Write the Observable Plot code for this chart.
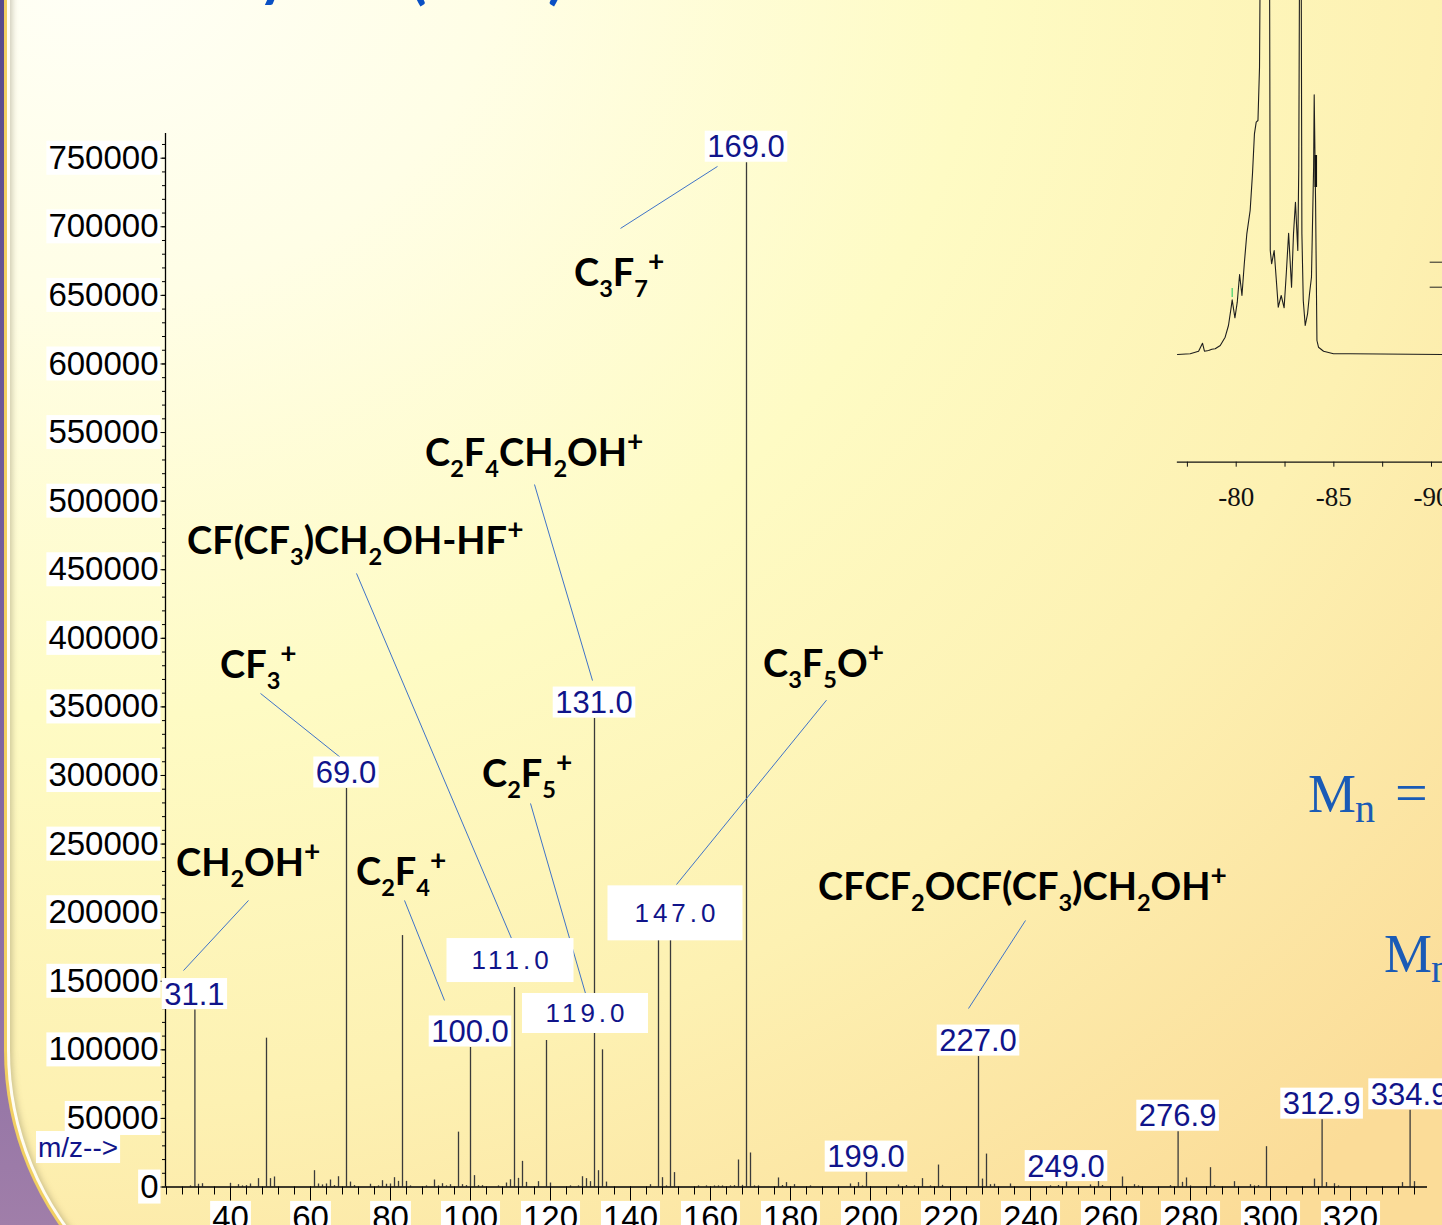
<!DOCTYPE html>
<html><head><meta charset="utf-8">
<script src="https://cdn.jsdelivr.net/npm/d3@7"></script>
<script src="https://cdn.jsdelivr.net/npm/@observablehq/plot@0.6"></script>
<style>
html,body{margin:0;padding:0;background:#fff;}
#stage{position:relative;width:1442px;height:1225px;overflow:hidden;background:linear-gradient(180deg,#574a8c 0%,#7a62a0 55%,#a07ea9 100%);}
#gold{position:absolute;left:4px;top:-60px;width:1500px;height:1416px;background:#f1cf62;border-bottom-left-radius:306px;}
#white{position:absolute;left:7px;top:-60px;width:1500px;height:1413px;background:#fffdf2;border-bottom-left-radius:303px;}
#panel{position:absolute;left:10px;top:-60px;width:1500px;height:1410px;border-bottom-left-radius:300px;
 background:radial-gradient(ellipse 125% 115% at 5% 0%, #fffff8 0%, #fffee6 22%, #fefbc4 48%, #fdf1b2 72%, #fbdc98 100%);
 box-shadow: inset 5px 0 6px -3px rgba(110,100,70,0.35);}
.abs{position:absolute;left:0;top:0;}
</style></head>
<body>
<div id="stage">
  <div id="gold"></div><div id="white"></div><div id="panel"></div>
  <svg class="abs" width="1442" height="1225" style="overflow:hidden">
    <g fill="#0a50c4" font-family="Lato, 'Open Sans', sans-serif" font-weight="700" font-size="60">
      <text x="258" y="-5">y</text>
      <text x="410" y="-3">(</text>
      <text x="548" y="-3">)</text>
    </g>
    <g fill="#1a5bb6" font-family="'Liberation Serif','Times New Roman',serif">
      <text x="1308" y="812" font-size="54">M</text>
      <text x="1355" y="822" font-size="40">n</text>
      <text x="1395" y="812" font-size="58">=</text>
      <text x="1384" y="972" font-size="54">M</text>
      <text x="1431" y="982" font-size="40">n</text>
    </g>
  </svg>
  <div id="main" class="abs"></div>
  <div id="inset" style="position:absolute;left:1160px;top:0"></div>
</div>
<script>
// ---------------- Mass spectrum data ----------------
const peakMz = [30,31.1,32,33,40,42,43,44,45,47,49,50,51,61,62,63,64,65,66,67,69.0,70,71,75,77,78,79,80,81,82,83,84,85,89,91,92,93,94,95,97,98,99,100.0,101,102,103,107,109,110,111.0,112,113,114,117,119.0,120,125,127,128,129,130,131.0,132,133,134,145,147.0,148,149,150,151,157,159,161,162,163,165,166,167,168,169.0,170,171,172,177,178,179,181,185,195,197,198,199.0,207,209,211,213,215,217,218,227.0,228,229,230,231,235,245,247,249.0,255,257,258,263,266,267,275,276.9,278,279,280,285,286,291,295,296,297,299,311,312.9,314,316,317,333,334.9,336];
const peakIntensity = [800,129000,2000,2400,2700,1700,800,1000,2200,6100,108500,6100,7300,11900,2200,1500,2200,5100,1000,7500,290500,3600,1000,2000,800,4600,2000,2200,6800,4100,183300,4100,800,800,5100,800,2400,800,1700,40000,1700,1000,101700,8300,1000,1000,800,2900,5300,145400,6300,18700,3400,3900,106800,2900,800,800,7500,6100,3900,341500,11900,100000,3600,1700,182000,6800,800,182000,10500,800,800,800,800,800,800,1000,19700,1200,746700,24800,800,800,6600,1100,3200,1700,800,2200,3200,800,10500,1500,1100,800,6100,800,16000,1200,95100,5800,24000,1700,2000,2200,800,1100,3600,1500,4900,1100,7300,1700,800,1000,40300,3400,6600,800,14100,1000,3900,1700,800,1000,29400,5800,49100,3200,2400,800,3200,55900,3900];

const labelMz = [31.1,69.0,100.0,111.0,119.0,131.0,147.0,169.0,199.0,227.0,249.0,276.9,312.9,334.9];

const yTickValues = [0,50000,100000,150000,200000,250000,300000,350000,400000,450000,500000,550000,600000,650000,700000,750000];
const xTickValues = [40,60,80,100,120,140,160,180,200,220,240,260,280,300,320];

const fragText = ["CH_2OH^+","CF_3^+","C_2F_4^+","CF(CF_3)CH_2OH-HF^+","C_2F_4CH_2OH^+","C_3F_7^+","C_2F_5^+","C_3F_5O^+","CFCF_2OCF(CF_3)CH_2OH^+"];
const fragMz = [26.5,37.5,71.5,29.25,88.75,126,103,173.25,187];
const fragIntensity = [226350,370700,219800,461100,525200,656500,291200,371400,208900];

const leaderMz1 = [44.5,47.5,83.5,71.5,116,137.5,115,189,238.75];
const leaderI1 = [208900,359800,208900,447300,512100,698800,279600,354900,194300];
const leaderMz2 = [28.25,67.5,93.5,110.25,130.5,161.75,128.75,151.5,224.5];
const leaderI2 = [157800,313100,136000,181200,369200,744000,141100,220500,130100];

// ---------------- NMR inset data ----------------
const nmrPpm = [-77.25,-77.90,-78.33,-78.53,-78.63,-78.84,-79.01,-79.18,-79.44,-79.69,-79.86,-80.00,-80.05,-80.19,-80.31,-80.43,-80.55,-80.67,-80.80,-80.97,-81.09,-81.19,-81.28,-81.37,-81.45,-81.52,-81.95,-82.00,-82.07,-82.20,-82.30,-82.41,-82.56,-82.71,-82.82,-82.94,-83.09,-83.19,-83.29,-83.41,-83.46,-83.52,-83.57,-83.62,-83.69,-83.79,-83.91,-84.01,-84.11,-84.22,-84.25,-84.32,-84.39,-84.47,-84.73,-85.24,-86.09,-90.82];
const nmrSignal = [0,0.7,3.3,11.3,3.3,4,5.3,5.7,9,17.3,29,47.3,54.7,36.7,52.3,80,59,90.7,120.7,144,180.7,220.7,232.3,234,287.3,500,500,104,90.7,104,77.3,47.3,59,46.7,80.7,121.3,67.3,120.7,152.3,104,187.3,500,500,120.7,54,29,40.7,60.7,77.3,187.3,259.7,154,14,7.3,3.3,0.7,0.7,0];
const nmrTickValues = [-77.5,-80,-82.5,-85,-87.5,-90];
const nmrMarkPpm = [-80.05,-84.33];
const nmrMarkLow = [57,167];
const nmrMarkHigh = [66,199];
const nmrBracketLevel = [92.3,67.3];

// ---------------- build ----------------
const peaks = peakMz.map((mz,i)=>({mz, intensity: peakIntensity[i]}));
const labels = labelMz.map(mz => ({mz, text: mz.toFixed(1), intensity: peaks.find(p=>p.mz===mz).intensity}));
const leaders = leaderMz1.map((m,i)=>({x1:m, y1:leaderI1[i], x2:leaderMz2[i], y2:leaderI2[i]}));
const frags = fragText.map((t,i)=>({t, mz: fragMz[i], i: fragIntensity[i]}));
const yMinor = d3.range(0, 760001, 10000);
const xMinor = d3.range(24, 340, 4);

const plot = Plot.plot({
  width: 1442, height: 1225,
  marginLeft: 165, marginRight: 15, marginTop: 133, marginBottom: 38.5,
  x: {domain: [23.75, 339.25], label: null},
  y: {domain: [0, 768000], label: null},
  style: {background: "transparent", fontFamily: "'Liberation Sans', Arial, sans-serif", fontSize: "33px", color: "#000", overflow: "hidden"},
  marks: [
    Plot.axisY({ticks: yMinor, tickSize: 3, tickFormat: () => "", label: null}),
    Plot.axisY({ticks: yTickValues, tickSize: 5, tickPadding: 2, tickFormat: d => String(d), label: null}),
    Plot.axisX({ticks: xMinor, tickSize: 8, tickFormat: () => "", label: null}),
    Plot.axisX({ticks: xTickValues, tickSize: 14, tickPadding: 4.5, tickFormat: d => String(d), label: null}),
    Plot.ruleX(peaks, {x: "mz", y: "intensity", stroke: "#3a3a3a", strokeWidth: 1.3}),
    Plot.link(leaders, {x1: "x1", y1: "y1", x2: "x2", y2: "y2", stroke: "#3f73c8", strokeWidth: 1}),
    Plot.ruleX([23.75], {stroke: "#000", strokeWidth: 1.3}),
    Plot.ruleY([0], {stroke: "#000", strokeWidth: 1.6})
  ]
});
document.getElementById("main").append(plot);

const NS = "http://www.w3.org/2000/svg";
const svg = d3.select(plot);
const xs = plot.scale("x"), ys = plot.scale("y");

// white boxes behind tick labels
svg.selectAll('g[aria-label="y-axis tick label"] text, g[aria-label="x-axis tick label"] text').each(function(){
  if (!this.textContent) return;
  const bb = this.getBBox();
  const r = document.createElementNS(NS, "rect");
  r.setAttribute("x", bb.x - 2); r.setAttribute("y", bb.y + 2);
  r.setAttribute("width", bb.width + 4); r.setAttribute("height", bb.height - 3);
  r.setAttribute("fill", "#fff");
  const tr = this.getAttribute("transform"); if (tr) r.setAttribute("transform", tr);
  this.parentNode.insertBefore(r, this);
});

// peak labels with white boxes
const labelLayout = {
  "111.0": {dx: -4, dy: -27, fs: 26, ls: 4, bw: 127, bh: 44},
  "119.0": {dx: 39, dy: -27, fs: 26, ls: 4, bw: 126, bh: 40},
  "147.0": {dx: 17, dy: -24, fs: 26, ls: 4, bw: 135, bh: 55}
};
const gL = svg.append("g");
labels.forEach(l => {
  const lay = labelLayout[l.text] || {dx: 0, dy: -16, fs: 31, ls: 0};
  const cx = xs.apply(l.mz) + lay.dx, cy = ys.apply(l.intensity) + lay.dy;
  const r = gL.append("rect").attr("fill", "#fff");
  const t = gL.append("text").attr("x", cx + lay.ls/2).attr("y", cy).attr("dy", "0.36em")
    .attr("text-anchor", "middle").attr("font-size", lay.fs).attr("letter-spacing", lay.ls)
    .attr("fill", "#10148a").text(l.text);
  const w = lay.bw || (t.node().getComputedTextLength() + 5);
  const h = lay.bh || 31;
  r.attr("x", cx - w/2).attr("y", cy - h/2).attr("width", w).attr("height", h);
});

// m/z--> label
{
  const r = gL.append("rect").attr("fill", "#fff");
  const t = gL.append("text").attr("x", 38).attr("y", 1147).attr("dy", "0.36em")
    .attr("text-anchor", "start").attr("font-size", 28).attr("fill", "#10148a").text("m/z-->");
  const w = t.node().getComputedTextLength();
  r.attr("x", 36).attr("y", 1131).attr("width", w + 4).attr("height", 32);
}

// fragment annotations (rich text with sub/superscripts)
function rich(textSel, s, fs) {
  const tokens = [];
  for (let k = 0; k < s.length; k++) {
    const c = s[k];
    if (c === "_" || c === "^") { tokens.push({t: s[k+1], kind: c === "_" ? "sub" : "sup"}); k++; }
    else if (tokens.length && tokens[tokens.length-1].kind === "n") tokens[tokens.length-1].t += c;
    else tokens.push({t: c, kind: "n"});
  }
  let cur = 0;
  tokens.forEach(tok => {
    const target = tok.kind === "sub" ? 0.3*fs : tok.kind === "sup" ? -0.4*fs : 0;
    textSel.append("tspan").attr("dy", target - cur)
      .attr("font-size", tok.kind === "n" ? fs : tok.kind === "sub" ? 0.62*fs : 0.74*fs).text(tok.t);
    cur = target;
  });
}
const gF = svg.append("g").attr("font-family", "Lato, 'Open Sans', sans-serif").attr("font-weight", 700)
  .attr("fill", "#000").attr("text-anchor", "start");
frags.forEach(f => {
  const t = gF.append("text").attr("x", xs.apply(f.mz)).attr("y", ys.apply(f.i)).attr("text-anchor", "start");
  rich(t, f.t, 38);
});

// ---------------- inset ----------------
const nmr = nmrPpm.map((p,i)=>({ppm: p, v: nmrSignal[i]}));
const nmrMarks = nmrMarkPpm.map((p,i)=>({ppm: p, lo: nmrMarkLow[i], hi: nmrMarkHigh[i]}));
const inset = Plot.plot({
  width: 282, height: 520,
  marginLeft: 17, marginRight: 0, marginTop: 0, marginBottom: 58.3,
  x: {domain: [-77.25, -90.82], label: null},
  y: {domain: [-107.7, 354], label: null, axis: null},
  style: {background: "transparent", fontFamily: "'Liberation Serif','Times New Roman',serif", fontSize: "27px", color: "#111", overflow: "hidden"},
  marks: [
    Plot.line(nmr, {x: "ppm", y: "v", stroke: "#1e1e1e", strokeWidth: 1.1, clip: true}),
    Plot.ruleX(nmrMarks.slice(1), {x: "ppm", y1: "lo", y2: "hi", stroke: "#111", strokeWidth: 2.6}),
    Plot.ruleX(nmrMarks.slice(0,1), {x: "ppm", y1: "lo", y2: "hi", stroke: "#3ccf6a", strokeWidth: 1.2}),
    Plot.ruleY(nmrBracketLevel, {x1: -90.19, x2: -90.82, stroke: "#222", strokeWidth: 1}),
    Plot.axisX({ticks: nmrTickValues, tickSize: 5, tickPadding: 20, tickFormat: d => d % 5 === 0 ? String(d) : "", label: null, dx: 5}),
    Plot.frame({anchor: "bottom", stroke: "#111", strokeWidth: 1.3})
  ]
});
document.getElementById("inset").append(inset);
</script>
</body></html>
